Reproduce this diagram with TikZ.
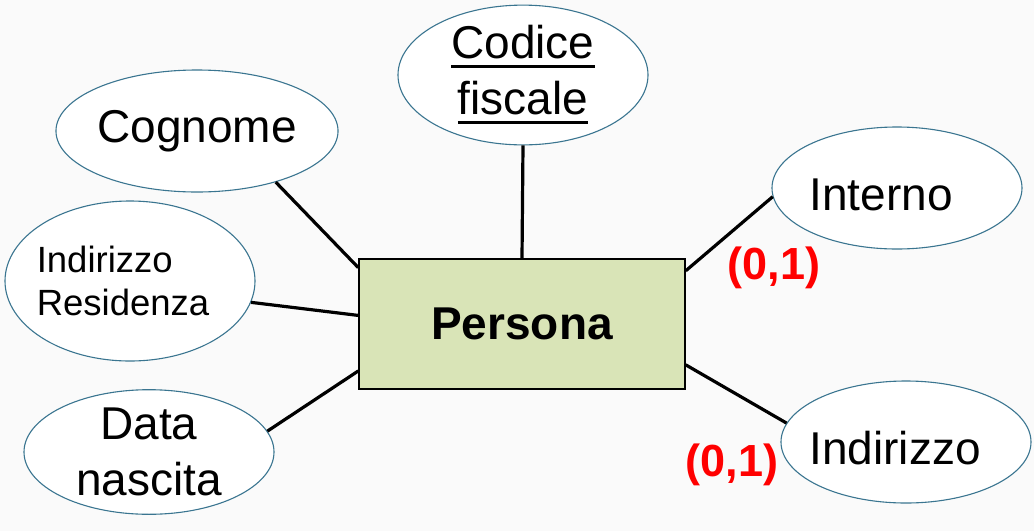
\documentclass[tikz,border=0pt]{standalone}
\usepackage{amssymb, amsmath}
\usepackage{fontspec}
\setmainfont{Liberation Sans}
\usetikzlibrary{arrows,fit,positioning,shapes.geometric}
\definecolor{attrline}{HTML}{3A7590}
\definecolor{entityfill}{HTML}{D9E4B7}
\newcommand{\keyword}[1]{\setbox0\hbox{#1}\rlap{\rule[-9.5pt]{\wd0}{3pt}}\box0}

\begin{document}
\begin{tikzpicture}[x=1pt,y=-1pt,
			attr/.style={shape=ellipse,draw=attrline,fill=white,line width=1.1pt,minimum width=250pt,minimum height=122pt,inner sep=0,align=center,font=\fontsize{46}{56}\selectfont},
			entity/.style={shape=rectangle,draw,fill=entityfill,line width=1.4pt,minimum width=326pt,minimum height=130pt,font=\fontsize{46}{56}\selectfont\bfseries},
			card/.style={text=red,inner sep=0,font=\fontsize{45}{54}\selectfont\bfseries},
			link/.style={line width=3.2pt}]
			\fill[gray!4] (0,0) rectangle (1034,531);
			\useasboundingbox (0,0) rectangle (1034,531);
			\node[entity] (p) at (522,324) {Persona};
			\node[attr] (cf) at (523,75) {\keyword{Codice}\\\keyword{fiscale}};
			\node[attr] (cg) at (197,131) {Cognome};
			\node[attr,minimum height=160pt,align=left,font=\fontsize{36.5}{43}\selectfont] (ir) at (130,281) {\kern-14pt Indirizzo\\\kern-14pt Residenza};
			\node[attr] (dn) at (149,452) {Data\\nascita};
			\node[attr,text height=46pt] (in) at (897,188) {\kern-32pt Interno};
			\node[attr,text height=46pt] (id) at (906,442) {\kern-22pt Indirizzo};
			\node[card] (c1) at (774,268) {(0,1)};
			\node[card] (c2) at (732,465) {(0,1)};
			\draw[link] (cf.south) to (p.north); \draw[link] (cg.-33) to (p.161.7);
			\draw[link] (ir.-10) to (p.177.5); \draw[link] (dn.10) to (p.-164.6);
			\draw[link] (in.-176) to (p.18.6); \draw[link] (id.171.3) to (p.-14.8);
		\end{tikzpicture}
\end{document}
